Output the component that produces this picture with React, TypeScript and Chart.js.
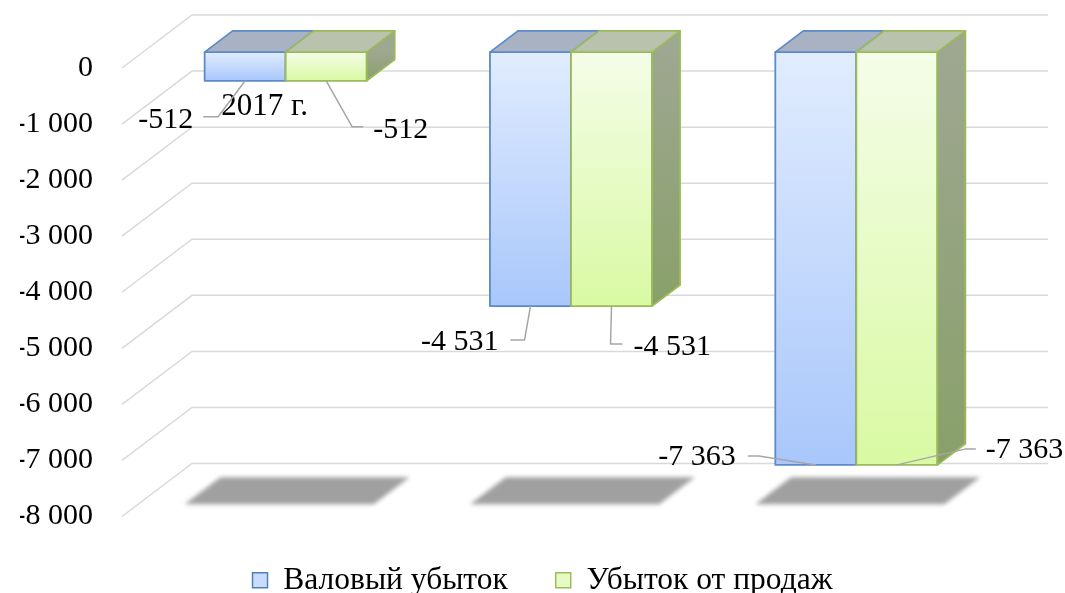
import React, { useEffect, useRef } from 'react';
import { Chart, registerables } from 'chart.js';

Chart.register(...registerables);

// ---- data ----
const categories = ['2017 г.', '2018 г.', '2019 г.'];
const seriesNames = ['Валовый убыток', 'Убыток от продаж'];
const grossLoss = [-512, -4531, -7363];
const salesLoss = [-512, -4531, -7363];
const yMin = -8000;
const yMax = 0;
const yStep = 1000;

// ---- layout / style constants ----
const FONT = "'Liberation Serif', 'Times New Roman', serif";
const DX = 70; // depth of the floor (x)
const DY = -53; // depth of the floor (y)
const BAR_D0 = 0.3;
const BAR_D1 = 0.7;

const barStyles = [
  { top: '#e1ecfe', bottom: '#a9c7fb', lid: '#a9b2c2', side: '#8e9aae', sideBottom: '#7d8ca6', border: '#5b8bc9' },
  { top: '#f4fde8', bottom: '#d9f9a3', lid: '#b8c2ad', side: '#9ea791', sideBottom: '#89a06a', border: '#9bbb59' },
];

// offsets of leader lines / labels from the bar's front bottom centre
type Place = { elbow: [number, number]; end: [number, number]; text: [number, number]; align: CanvasTextAlign };
const labelPlaces: Place[][] = [
  [
    { elbow: [-27, 36], end: [-42, 36], text: [-52, 39], align: 'right' },
    { elbow: [-6, 34], end: [-20, 34], text: [-32, 36], align: 'right' },
    { elbow: [-57, -9], end: [-68, -9], text: [-80, -8], align: 'right' },
  ],
  [
    { elbow: [26, 46], end: [37, 46], text: [47, 49], align: 'left' },
    { elbow: [-1, 38], end: [11, 38], text: [22, 41], align: 'left' },
    { elbow: [69, -16], end: [79, -16], text: [89, -15], align: 'left' },
  ],
];

function fmt(v: number): string {
  const s = Math.abs(Math.round(v))
    .toString()
    .replace(/\B(?=(\d{3})+(?!\d))/g, ' ');
  return (v < 0 ? '-' : '') + s;
}

const threeD = {
  id: 'threeD',
  beforeDatasetsDraw(chart: any) {
    const ctx: CanvasRenderingContext2D = chart.ctx;
    const { left, right } = chart.chartArea;
    const ys = chart.scales.y;
    ctx.save();

    // back wall + side wall gridlines
    ctx.strokeStyle = '#d9d9d9';
    ctx.lineWidth = 1.5;
    ys.ticks.forEach((t: any) => {
      const py = ys.getPixelForValue(t.value);
      ctx.beginPath();
      ctx.moveTo(left, py);
      ctx.lineTo(left + DX, py + DY);
      ctx.lineTo(right + DX, py + DY);
      ctx.stroke();
    });

    const metas = [chart.getDatasetMeta(0), chart.getDatasetMeta(1)];
    const floor = ys.getPixelForValue(yMin);

    // floor shadows
    ctx.save();
    ctx.filter = 'blur(2px)';
    ctx.fillStyle = '#a0a0a0';
    categories.forEach((_, i) => {
      const a = metas[0].data[i];
      const b = metas[1].data[i];
      const x0 = a.x - a.width / 2 - 15;
      const x1 = b.x + b.width / 2 + 12;
      const d0 = 0.23;
      const d1 = 0.74;
      ctx.beginPath();
      ctx.moveTo(x0 + DX * d0, floor + DY * d0);
      ctx.lineTo(x1 + DX * d0, floor + DY * d0);
      ctx.lineTo(x1 + DX * d1, floor + DY * d1);
      ctx.lineTo(x0 + DX * d1, floor + DY * d1);
      ctx.closePath();
      ctx.fill();
    });
    ctx.restore();

    // bars
    const ox0 = DX * BAR_D0, oy0 = DY * BAR_D0;
    const ox1 = DX * BAR_D1, oy1 = DY * BAR_D1;
    ctx.lineWidth = 1.8;
    ctx.lineJoin = 'round';
    categories.forEach((_, i) => {
      metas.forEach((meta, ds) => {
        const el = meta.data[i];
        const st = barStyles[ds];
        const xl = el.x - el.width / 2;
        const xr = el.x + el.width / 2;
        const yt = Math.min(el.base, el.y);
        const yb = Math.max(el.base, el.y);
        // front
        const fx0 = xl + ox0, fx1 = xr + ox0, fy0 = yt + oy0, fy1 = yb + oy0;
        const g = ctx.createLinearGradient(0, fy0, 0, fy1);
        g.addColorStop(0, st.top);
        g.addColorStop(1, st.bottom);
        ctx.fillStyle = g;
        ctx.strokeStyle = st.border;
        ctx.beginPath();
        ctx.rect(fx0, fy0, fx1 - fx0, fy1 - fy0);
        ctx.fill();
        ctx.stroke();
        // side
        const sg = ctx.createLinearGradient(0, fy0, 0, fy1);
        sg.addColorStop(0, st.side);
        sg.addColorStop(1, st.sideBottom);
        ctx.fillStyle = sg;
        ctx.beginPath();
        ctx.moveTo(xr + ox0, yt + oy0);
        ctx.lineTo(xr + ox1, yt + oy1);
        ctx.lineTo(xr + ox1, yb + oy1);
        ctx.lineTo(xr + ox0, yb + oy0);
        ctx.closePath();
        ctx.fill();
        ctx.stroke();
        // top
        ctx.fillStyle = st.lid;
        ctx.beginPath();
        ctx.moveTo(xl + ox0, yt + oy0);
        ctx.lineTo(xr + ox0, yt + oy0);
        ctx.lineTo(xr + ox1, yt + oy1);
        ctx.lineTo(xl + ox1, yt + oy1);
        ctx.closePath();
        ctx.fill();
        ctx.stroke();
      });
    });

    // data labels with leader lines
    ctx.font = `30px ${FONT}`;
    ctx.textBaseline = 'middle';
    metas.forEach((meta, ds) => {
      const values = chart.data.datasets[ds].data as number[];
      meta.data.forEach((el: any, i: number) => {
        const bx = el.x + ox0;
        const by = el.y + oy0;
        const p = labelPlaces[ds][i];
        ctx.strokeStyle = '#a6a6a6';
        ctx.lineWidth = 1.5;
        ctx.beginPath();
        ctx.moveTo(bx, by);
        ctx.lineTo(bx + p.elbow[0], by + p.elbow[1]);
        ctx.lineTo(bx + p.end[0], by + p.end[1]);
        ctx.stroke();
        ctx.fillStyle = '#000';
        ctx.textAlign = p.align;
        ctx.fillText(fmt(values[i]), bx + p.text[0], by + p.text[1]);
      });
    });

    ctx.restore();
    return false;
  },
};

export default function App() {
  const ref = useRef<HTMLCanvasElement | null>(null);

  useEffect(() => {
    if (!ref.current) return;
    const chart = new Chart(ref.current, {
      type: 'bar',
      data: {
        labels: categories,
        datasets: [
          {
            label: seriesNames[0],
            data: grossLoss,
            backgroundColor: '#c9dcfc',
            borderColor: '#4f81bd',
            borderWidth: 1.5,
          },
          {
            label: seriesNames[1],
            data: salesLoss,
            backgroundColor: '#e6fbc4',
            borderColor: '#9bbb59',
            borderWidth: 1.5,
          },
        ],
      },
      options: {
        responsive: false,
        animation: false,
        events: [],
        datasets: { bar: { categoryPercentage: 0.568, barPercentage: 1 } },
        layout: { padding: { top: 68, right: 0, left: 20, bottom: 0 } },
        scales: {
          x: {
            type: 'category',
            position: { y: 0 } as any,
            z: 1,
            grid: { display: false, drawTicks: false },
            border: { display: false },
            ticks: { padding: 20, color: '#000', font: { family: FONT, size: 31 }, maxRotation: 0 },
          },
          y: {
            type: 'linear',
            position: 'left',
            min: yMin,
            max: yMax,
            afterFit: (s: any) => {
              s.width = 102;
            },
            grid: { display: false, drawTicks: false },
            border: { display: false },
            ticks: {
              stepSize: yStep,
              padding: 29,
              color: '#000',
              font: { family: FONT, size: 30 },
              callback: (v: any) => fmt(Number(v)),
            },
          },
          yRight: {
            type: 'linear',
            position: 'right',
            min: yMin,
            max: yMax,
            afterFit: (s: any) => {
              s.width = 87;
            },
            grid: { display: false, drawTicks: false },
            border: { display: false },
            ticks: { display: false },
          },
        },
        plugins: {
          tooltip: { enabled: false },
          legend: {
            position: 'bottom',
            labels: {
              boxWidth: 15,
              boxHeight: 15,
              padding: 48,
              color: '#000',
              font: { family: FONT, size: 31.5 },
            },
          },
        },
      },
      plugins: [threeD],
    });
    return () => chart.destroy();
  }, []);

  return (
    <div style={{ position: 'fixed', left: 0, top: 0, width: 1065, height: 593, overflow: 'hidden', background: '#fff' }}>
      <canvas ref={ref} width={1065} height={606} style={{ display: 'block' }} />
    </div>
  );
}
